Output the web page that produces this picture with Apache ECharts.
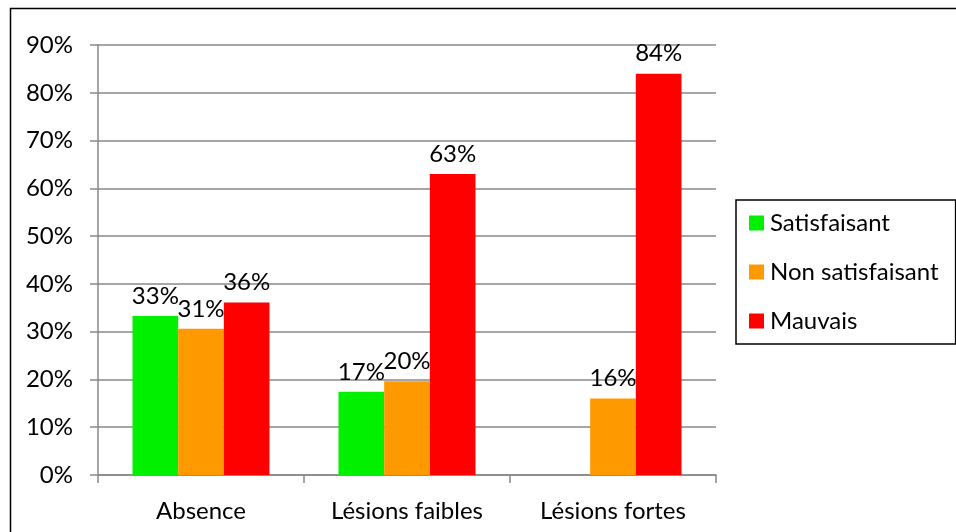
<!DOCTYPE html>
<html>
<head>
<meta charset="utf-8">
<script src="https://cdn.jsdelivr.net/npm/echarts@6/dist/echarts.min.js"></script>
<style>
  html, body { margin: 0; padding: 0; background: #fff; }
  #chart { width: 956px; height: 532px; }
</style>
</head>
<body>
<div id="chart"></div>
<script>
// Categories and series (percentages)
const categories = ['Absence', 'Lésions faibles', 'Lésions fortes'];
const satisfaisant = [33.3, 17.4, 0];
const nonSatisfaisant = [30.6, 19.6, 16];
const mauvais = [36.1, 63, 84];
const yTicks = [0, 10, 20, 30, 40, 50, 60, 70, 80, 90];

const FONT = 'Lato';
const FS = 24;
const gridGray = '#888888';

function barSeries(name, data, color) {
  return {
    name: name,
    type: 'bar',
    data: data,
    barGap: '0%',
    barCategoryGap: '33.5%',
    itemStyle: { color: color },
    label: {
      show: true,
      position: 'top',
      distance: 8,
      color: '#000',
      fontFamily: FONT,
      fontSize: FS,
      formatter: p => (p.value > 0 ? Math.round(p.value) + '%' : '')
    }
  };
}

const chart = echarts.init(document.getElementById('chart'), null, { renderer: 'canvas' });
chart.setOption({
  animation: false,
  backgroundColor: '#fff',
  grid: { left: 98, right: 240, top: 45, bottom: 57, containLabel: false },
  legend: {
    orient: 'vertical',
    left: 736,
    top: 200,
    padding: [11, 17, 11, 13],
    itemGap: 25,
    itemWidth: 15,
    itemHeight: 15,
    borderColor: '#000',
    borderWidth: 1.5,
    icon: 'rect',
    textStyle: { fontFamily: FONT, fontSize: FS, color: '#000', padding: [0, 0, 0, 1] },
    data: ['Satisfaisant', 'Non satisfaisant', 'Mauvais']
  },
  xAxis: {
    type: 'category',
    data: categories,
    axisLine: { lineStyle: { color: gridGray, width: 1.5 } },
    axisTick: { show: true, length: 8, lineStyle: { color: gridGray, width: 1.5 } },
    axisLabel: { fontFamily: FONT, fontSize: FS, color: '#000', margin: 24 }
  },
  yAxis: {
    type: 'value',
    min: yTicks[0],
    max: yTicks[yTicks.length - 1],
    interval: 10,
    axisLine: { show: true, lineStyle: { color: gridGray, width: 1.5 } },
    axisTick: { show: true, length: 8, lineStyle: { color: gridGray, width: 1.5 } },
    splitLine: { show: true, lineStyle: { color: gridGray, width: 1.5 } },
    axisLabel: {
      fontFamily: FONT, fontSize: FS, color: '#000', margin: 25,
      formatter: v => v + '%'
    }
  },
  series: [
    barSeries('Satisfaisant', satisfaisant, '#00F000'),
    barSeries('Non satisfaisant', nonSatisfaisant, '#FF9900'),
    barSeries('Mauvais', mauvais, '#FF0000')
  ],
  graphic: [{
    type: 'rect',
    silent: true,
    z: -1,
    shape: { x: 10.5, y: 8.5, width: 980, height: 560 },
    style: { fill: 'none', stroke: '#000', lineWidth: 1.5 }
  }]
});
</script>
</body>
</html>
